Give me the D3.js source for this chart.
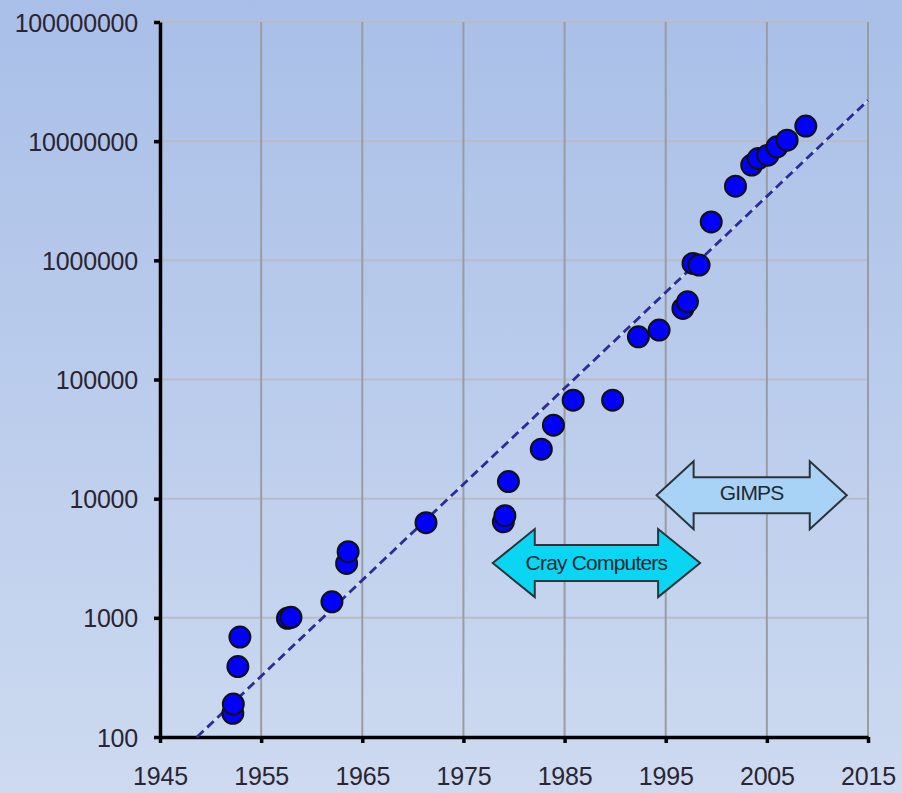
<!DOCTYPE html>
<html>
<head>
<meta charset="utf-8">
<script src="https://cdn.jsdelivr.net/npm/d3@7"></script>
<style>
  html, body { margin: 0; padding: 0; }
  body { width: 902px; height: 793px; overflow: hidden; }
  svg { display: block; }
</style>
</head>
<body>
<svg id="chart" width="902" height="793"></svg>
<script>
// Record prime sizes (digits) by year, log scale
const years = [1952.2, 1952.25, 1952.7, 1952.9, 1957.6, 1957.95, 1962.0, 1963.45, 1963.6, 1971.3,
  1978.95, 1979.1, 1979.45, 1982.7, 1983.9, 1985.85, 1989.75, 1992.3, 1994.35,
  1996.7, 1997.15, 1997.7, 1998.3, 1999.5, 2001.9, 2003.5, 2004.15, 2005.1, 2006.0, 2007.0, 2008.85];
const values = [158, 189, 390, 690, 990, 1010, 1364, 2860, 3590, 6280,
  6400, 7200, 13900, 26000, 41400, 67000, 67000, 228000, 260000,
  395000, 449000, 942000, 912000, 2100000, 4190000, 6300000, 7150000, 7630000, 8960000, 10200000, 13400000];

// Exponential trend line endpoints
const trendYears = [1948.66, 2015];
const trendValues = [100, 22000000];

// Axis ticks
const xTicks = [1945, 1955, 1965, 1975, 1985, 1995, 2005, 2015];
const yTicks = [100, 1000, 10000, 100000, 1000000, 10000000, 100000000];

// Period annotations
const periodLabels = ["Cray Computers", "GIMPS"];
const periodStart = [1977.9, 1994.1];
const periodEnd = [1998.4, 2012.9];
const periodLevel = [2880, 10700];

const svg = d3.select("#chart");
const W = 902, H = 793;
const margin = { left: 160, right: 34, top: 22, bottom: 56 };
const font = "'Liberation Sans', Arial, sans-serif";

const defs = svg.append("defs");
const bg = defs.append("linearGradient").attr("id", "bg")
  .attr("x1", 0).attr("y1", 0).attr("x2", 0).attr("y2", 1);
bg.append("stop").attr("offset", "0%").attr("stop-color", "#a9bfe8");
bg.append("stop").attr("offset", "100%").attr("stop-color", "#cddaf0");
svg.append("rect").attr("width", W).attr("height", H).attr("fill", "url(#bg)");

const x = d3.scaleLinear().domain([1945, 2015]).range([margin.left, W - margin.right]);
const y = d3.scaleLog().domain([100, 100000000]).range([H - margin.bottom, margin.top]);

// Gridlines
const grid = svg.append("g");
grid.selectAll("line.h").data(yTicks.slice(1)).join("line")
  .attr("x1", x(1945)).attr("x2", x(2015))
  .attr("y1", d => y(d)).attr("y2", d => y(d))
  .attr("stroke", "#b9bcc4").attr("stroke-width", 2);
grid.selectAll("line.v").data(xTicks.slice(1)).join("line")
  .attr("x1", d => x(d)).attr("x2", d => x(d))
  .attr("y1", y(100000000)).attr("y2", y(100))
  .attr("stroke", "#9a9ca2").attr("stroke-width", 2);

// Axes
const xAxis = d3.axisBottom(x).tickValues(xTicks).tickFormat(d3.format("d"))
  .tickSizeInner(6).tickSizeOuter(0).tickPadding(24);
const yAxis = d3.axisLeft(y).tickValues(yTicks).tickFormat(d3.format("d"))
  .tickSizeInner(6).tickSizeOuter(0).tickPadding(16);

const gx = svg.append("g").attr("transform", `translate(0,${y(100)})`).call(xAxis);
const gy = svg.append("g").attr("transform", `translate(${x(1945)},0)`).call(yAxis);
[gx, gy].forEach(g => {
  g.select(".domain").attr("stroke", "#000").attr("stroke-width", 3.5);
  g.selectAll(".tick line").attr("stroke", "#000").attr("stroke-width", 3.5);
  g.selectAll(".tick text")
    .attr("font-family", font)
    .attr("font-size", 25).attr("fill", "#2a2530").attr("letter-spacing", -0.2);
});
gy.selectAll(".tick text").attr("dy", "0.36em");

// Trend line (light underlay + dashed dark line)
const trendLine = d3.line().x(d => x(d[0])).y(d => y(d[1]));
const trendData = d3.zip(trendYears, trendValues);
svg.append("path").datum(trendData).attr("d", trendLine)
  .attr("fill", "none").attr("stroke", "#e4e8ff").attr("stroke-width", 1.2).attr("opacity", 0.9);
svg.append("path").datum(trendData).attr("d", trendLine)
  .attr("fill", "none").attr("stroke", "#2b2b9c").attr("stroke-width", 2.8)
  .attr("stroke-dasharray", "9,5");

// Period arrows
const arrowGeom = [
  { half: 34, shaft: 18, head: 42, fill: "#0ad6f4", textDy: 0 },
  { half: 34, shaft: 18, head: 37, fill: "#a8d2f6", textDy: -3 }
];
periodLabels.forEach((label, i) => {
  const g = arrowGeom[i];
  const x0 = x(periodStart[i]), x1 = x(periodEnd[i]), cy = y(periodLevel[i]);
  const pts = [
    [x0, cy], [x0 + g.head, cy - g.half], [x0 + g.head, cy - g.shaft],
    [x1 - g.head, cy - g.shaft], [x1 - g.head, cy - g.half], [x1, cy],
    [x1 - g.head, cy + g.half], [x1 - g.head, cy + g.shaft],
    [x0 + g.head, cy + g.shaft], [x0 + g.head, cy + g.half]
  ];
  svg.append("path").attr("d", d3.line()(pts) + "Z")
    .attr("fill", g.fill).attr("stroke", "#2c3238").attr("stroke-width", 2)
    .attr("stroke-linejoin", "miter");
  svg.append("text").attr("x", (x0 + x1) / 2).attr("y", cy + g.textDy)
    .attr("text-anchor", "middle").attr("dy", "0.35em")
    .attr("font-family", font)
    .attr("font-size", 21).attr("letter-spacing", -0.8)
    .attr("fill", "#1e2a30").text(label);
});

// Data points
svg.append("g").selectAll("circle").data(d3.zip(years, values)).join("circle")
  .attr("cx", d => x(d[0])).attr("cy", d => y(d[1])).attr("r", 10.5)
  .attr("fill", "#0000ff").attr("stroke", "#111").attr("stroke-width", 2);
</script>
</body>
</html>
